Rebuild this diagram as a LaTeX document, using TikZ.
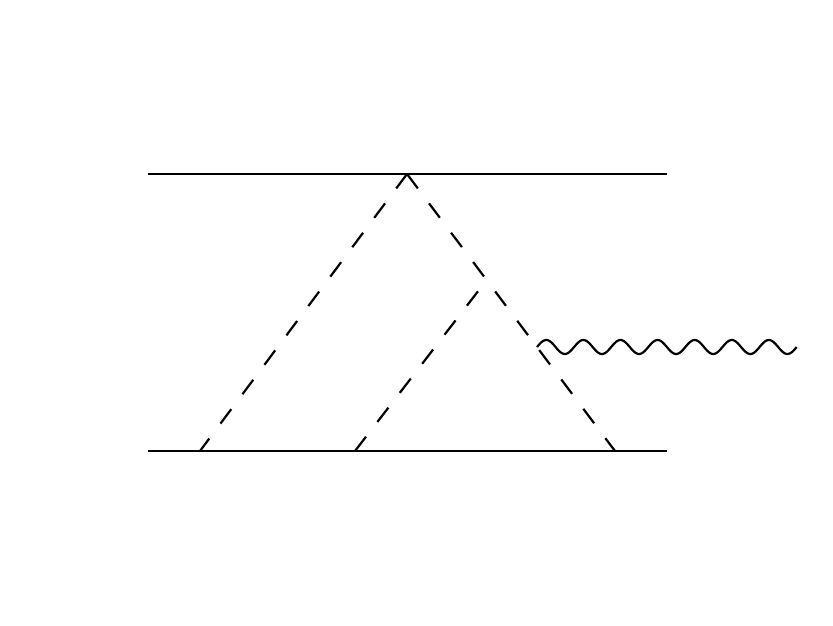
\documentclass[tikz,border=0pt]{standalone}
\usetikzlibrary{calc}
\begin{document}
\begin{tikzpicture}[x=1pt,y=-1pt,
  fermion/.style={line width=2.2pt},
  scalar/.style={line width=2.2pt,dash pattern=on 18pt off 18.7pt},
  photon/.style={line width=2.2pt}]
\useasboundingbox (0,0) rectangle (833,626);
\coordinate (tl) at (148,174);
\coordinate (tr) at (667,174);
\coordinate (bl) at (148,451);
\coordinate (br) at (667,451);
\coordinate (apex) at (407,174);
\coordinate (b1) at (200,451);
\coordinate (b2) at (355,451);
\coordinate (b3) at (615,451);
\coordinate (m) at (489,277);
\coordinate (w0) at (537,347);
\draw[fermion] (tl) -- (tr);
\draw[fermion] (bl) -- (br);
\draw[scalar] (apex) -- (b1);
\draw[scalar] (apex) -- (b3);
\draw[scalar] (b2) -- (m);
\begin{scope}[shift={(w0)}]
\draw[photon,domain=0:7,samples=300,smooth] plot ({37.1*\x},{-7*sin(\x*360)});
\end{scope}
\end{tikzpicture}
\end{document}
